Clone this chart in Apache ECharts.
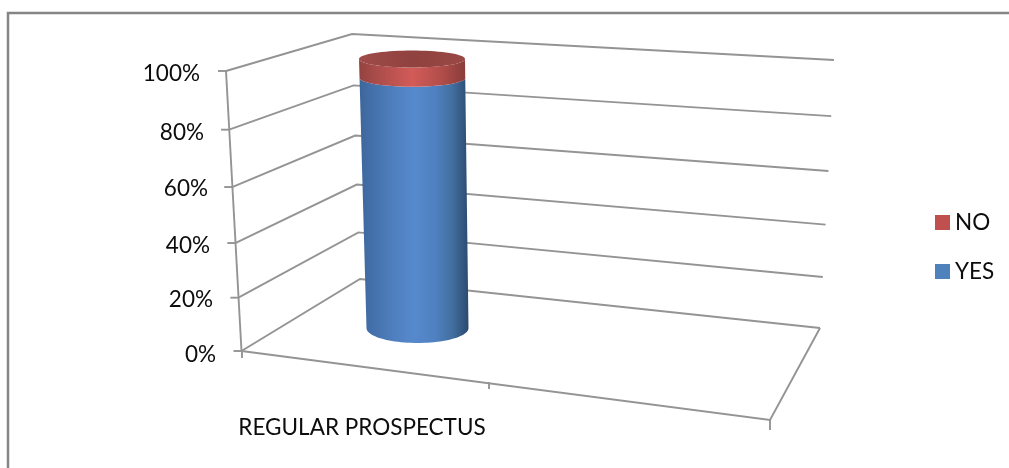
<!DOCTYPE html>
<html>
<head>
<meta charset="utf-8">
<style>html,body{margin:0;padding:0;background:#fff}#chart{width:1009px;height:468px}</style>
<script src="https://cdn.jsdelivr.net/npm/echarts@6/dist/echarts.min.js"></script>
</head>
<body>
<div id="chart"></div>
<script>
// Chart content
const categories = ['REGULAR PROSPECTUS'];
const yesValues = [93];
const noValues = [7];
const tickValues = [0, 20, 40, 60, 80, 100];
const FONT = 'Lato';
const INK = '#0d0d0d';
const WALL = '#949494';

// Oblique-view geometry of the box, per wall edge at 0% and 100%
const lerp = (a, b, t) => a + (b - a) * t;
const foreshorten = f => f - 0.06 * f * (1 - f);
const backX = [360, 352], backY = [279, 34];
const rightX = [820, 834], rightY = [328, 60];
const leftX = [241.5, 226];
const floor = { frontLeft: [241.5, 351], backRight: [820, 328], frontRight: [770, 420] };

// Left-axis labels step along the slanted axis: [extra right gap, extra downward shift]
const labelNudge = { 0: [0, 3.5], 20: [3, 5], 40: [6, 7], 60: [8, 6], 80: [12, 6], 100: [16, 3] };

// Cylinder outline at 0% and 100%
const cyl = { cx: [417.5, 412], rx: [51, 53], ry: [15, 8.5], y: [328, 59] };
const GRID_TOP = 71, GRID_BOTTOM = 351;

function ellipsePoints(cx, cy, rx, ry, from, to, n) {
  const pts = [];
  for (let i = 0; i <= n; i++) {
    const a = from + (to - from) * i / n;
    pts.push([cx + rx * Math.cos(a), cy + ry * Math.sin(a)]);
  }
  return pts;
}

// Ellipse of the cylinder at a given value, placed through the value axis
function ringAt(api, v) {
  const axisY = api.coord([0, v])[1];
  const f = (GRID_BOTTOM - axisY) / (GRID_BOTTOM - GRID_TOP);
  return {
    cx: lerp(cyl.cx[0], cyl.cx[1], f),
    cy: lerp(cyl.y[0], cyl.y[1], f),
    rx: lerp(cyl.rx[0], cyl.rx[1], f),
    ry: lerp(cyl.ry[0], cyl.ry[1], f)
  };
}

function bodyGradient(stops) {
  return new echarts.graphic.LinearGradient(0, 0, 1, 0,
    stops.map(c => ({ offset: c[0], color: c[1] })));
}

const yesStops = [[0, '#3d669a'], [0.1, '#436fa8'], [0.3, '#4e7ebd'], [0.5, '#5689cd'], [0.7, '#4f80c0'], [0.85, '#426f9f'], [1, '#2b4a70']];
const noStops = [[0, '#93423f'], [0.15, '#a84c4a'], [0.5, '#d25b58'], [0.75, '#b54f4c'], [1, '#8a3d3b']];

function segmentRenderer(stops, capped) {
  return function (params, api) {
    const lo = ringAt(api, api.value(1));
    const hi = ringAt(api, api.value(2));
    const lower = ellipsePoints(lo.cx, lo.cy, lo.rx, lo.ry, 0, Math.PI, 48);
    const upper = ellipsePoints(hi.cx, hi.cy, hi.rx, hi.ry, Math.PI, 0, 48);
    const children = [{
      type: 'polygon',
      shape: { points: lower.concat(upper) },
      style: { fill: bodyGradient(stops) }
    }];
    if (capped) {
      children.push({
        type: 'polygon',
        shape: { points: ellipsePoints(hi.cx, hi.cy, hi.rx, hi.ry, 0, Math.PI * 2, 72) },
        style: {
          fill: new echarts.graphic.LinearGradient(0, 0, 1, 0, [
            { offset: 0, color: '#a04b49' },
            { offset: 0.5, color: '#8f423f' },
            { offset: 1, color: '#9a4845' }
          ])
        }
      });
    }
    return { type: 'group', children };
  };
}

// Gridlines on the side and back walls, the axis ticks and the floor outline
function renderWalls(params, api) {
  const v = api.value(1);
  const f = foreshorten(v / 100);
  const y = lerp(GRID_BOTTOM, GRID_TOP, f);
  const x = lerp(leftX[0], leftX[1], v / 100);
  const line = { stroke: WALL, lineWidth: 1.9, fill: null };
  const children = [
    {
      type: 'polyline',
      shape: {
        points: [[x, y],
          [lerp(backX[0], backX[1], v / 100), lerp(backY[0], backY[1], f)],
          [lerp(rightX[0], rightX[1], v / 100), lerp(rightY[0], rightY[1], f)]]
      },
      style: line
    },
    { type: 'line', shape: { x1: x - 8, y1: y, x2: x, y2: y }, style: line }
  ];
  if (v === 0) {
    children.push(
      {
        type: 'polyline',
        shape: { points: [floor.backRight, floor.frontRight, floor.frontLeft] },
        style: line
      },
      { type: 'line', shape: { x1: leftX[0], y1: 351, x2: leftX[1], y2: GRID_TOP }, style: line },
      { type: 'line', shape: { x1: 242, y1: 351, x2: 242, y2: 358 }, style: line },
      { type: 'line', shape: { x1: 489, y1: 382, x2: 489, y2: 389 }, style: line },
      { type: 'line', shape: { x1: 770, y1: 420, x2: 770, y2: 430 }, style: line }
    );
  }
  return { type: 'group', children };
}

const labelRich = {};
tickValues.forEach(v => {
  const n = labelNudge[v];
  labelRich['t' + v] = {
    fontFamily: FONT, fontSize: 22.5, color: INK,
    padding: [n[1] * 2, n[0], 0, 0]
  };
});

const chart = echarts.init(document.getElementById('chart'), null, { renderer: 'canvas' });
chart.setOption({
  animation: false,
  backgroundColor: '#ffffff',
  grid: { left: 243, top: GRID_TOP, width: 238, height: GRID_BOTTOM - GRID_TOP },
  xAxis: {
    type: 'category',
    data: categories,
    axisLine: { show: false },
    axisTick: { show: false },
    axisLabel: { margin: 65, fontFamily: FONT, fontSize: 22.5, color: INK }
  },
  yAxis: {
    type: 'value',
    min: 0,
    max: 100,
    interval: 20,
    axisLine: { show: false },
    axisTick: { show: false },
    splitLine: { show: false },
    axisLabel: {
      margin: 27,
      formatter: v => '{t' + v + '|' + v + '%}',
      rich: labelRich
    }
  },
  legend: {
    data: ['NO', 'YES'],
    orient: 'vertical',
    left: 930,
    top: 206,
    icon: 'rect',
    itemWidth: 15,
    itemHeight: 15,
    itemGap: 26,
    itemStyle: { borderWidth: 0 },
    textStyle: { fontFamily: FONT, fontSize: 22.5, color: INK }
  },
  graphic: [{
    type: 'polyline',
    silent: true,
    shape: { points: [[8, 468], [8, 13], [1009, 13]] },
    style: { stroke: '#858585', lineWidth: 2.5, fill: null }
  }],
  series: [
    {
      type: 'custom',
      name: 'walls',
      silent: true,
      renderItem: renderWalls,
      encode: { x: 0, y: 1 },
      data: tickValues.map(v => [0, v]),
      z: 1
    },
    {
      type: 'custom',
      name: 'YES',
      silent: true,
      itemStyle: { color: '#4f81bd' },
      renderItem: segmentRenderer(yesStops, false),
      encode: { x: 0, y: 2 },
      data: yesValues.map((v, i) => [i, 0, v]),
      z: 2
    },
    {
      type: 'custom',
      name: 'NO',
      silent: true,
      itemStyle: { color: '#c0504d' },
      renderItem: segmentRenderer(noStops, true),
      encode: { x: 0, y: 2 },
      data: noValues.map((v, i) => [i, yesValues[i], yesValues[i] + v]),
      z: 3
    }
  ]
});
</script>
</body>
</html>
